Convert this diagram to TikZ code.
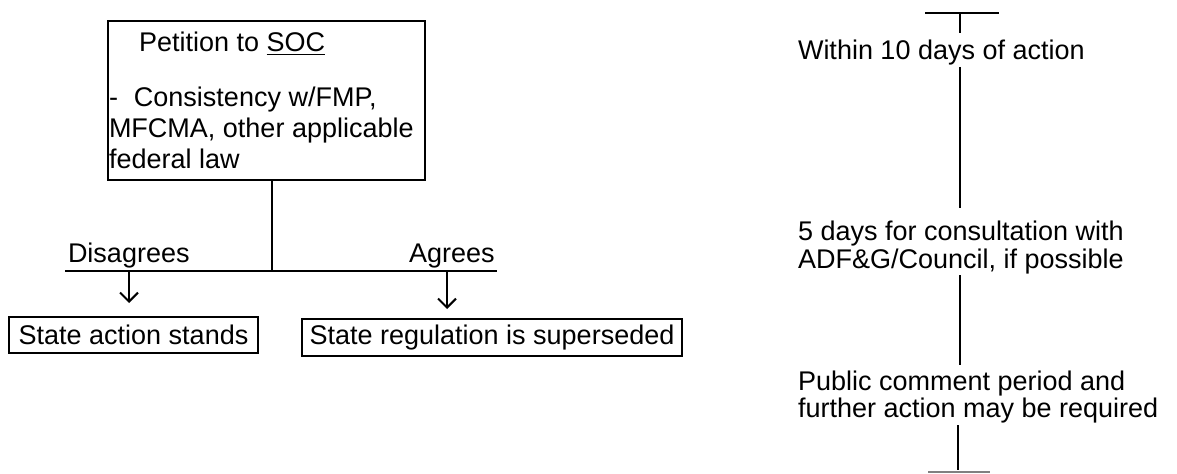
\documentclass[tikz,border=0pt]{standalone}
\usepackage{fontspec}
\setmainfont{Liberation Sans}
\usetikzlibrary{arrows.meta,calc}
\begin{document}
\begin{tikzpicture}[x=0.75pt,y=-0.75pt, line width=1.5pt,
  font=\fontsize{20.25pt}{22.5pt}\selectfont,
  box/.style={draw, line width=1.5pt, inner sep=0pt},
  lbl/.style={anchor=base west, inner sep=0pt},
  arr/.style={-{Straight Barb[length=6.75pt,width=13.5pt,line width=1.5pt]}}]
\useasboundingbox (0,0) rectangle (1177,474);
% left part
\node[box, anchor=north west, minimum width=237.75pt, minimum height=119.25pt] (petition) at (107,20) {};
\node[lbl] (p1) at (138,52) {Petition to \underline{SOC}};
\node[lbl] (p2) at (108,107) {\makebox[18.75pt][l]{-}Consistency w/FMP,};
\node[lbl] (p3) at (108,138) {MFCMA, other applicable};
\node[lbl] (p4) at (108,168) {federal law};
\coordinate (split) at (272,271);
\coordinate (hl) at (65,271);
\coordinate (hr) at (497,271);
\draw (petition.south -| split) -- (split);
\draw (hl) -- (hr);
\node[lbl] (dis) at (67,262) {Disagrees};
\node[lbl] (agr) at (408,262) {Agrees};
\node[box, minimum width=186.75pt, minimum height=27pt] (stand) at (133.5,335) {State action stands};
\node[box, minimum width=285pt, minimum height=27.75pt] (super) at (492,337.5) {State regulation is superseded};
\coordinate (a1) at (129,271);
\coordinate (a2) at (447,271);
\draw[arr, shorten >=9.75pt] (a1) -- (a1 |- stand.north);
\draw[arr, shorten >=6.75pt] (a2) -- (a2 |- super.north);
% right part
\coordinate (tl) at (925,13);
\coordinate (tr) at (999,13);
\coordinate (top) at (960,13);
\draw (tl) -- (tr);
\node[lbl] (w) at (797,60) {Within 10 days of action};
\node[lbl] (c1) at (797,240) {5 days for consultation with};
\node[lbl] (c2) at (797,268) {ADF\&G/Council, if possible};
\node[lbl] (pc1) at (797,390) {Public comment period and};
\node[lbl] (pc2) at (797,417) {further action may be required};
\coordinate (bot) at (958,472);
\coordinate (bl) at (928,472);
\coordinate (br) at (990,472);
\draw (top) -- ($(w.base -| top)+(0,-27)$);
\draw ($(w.base -| top)+(0,7)$) -- ($(c1.base -| top)+(0,-32)$);
\draw ($(c2.base -| top)+(0,7)$) -- ($(pc1.base -| top)+(0,-25)$);
\draw ($(pc2.base -| bot)+(0,8)$) -- ($(bot)+(0,-2)$);
\draw[gray, line width=1pt] (bl) -- (br);
\end{tikzpicture}
\end{document}
